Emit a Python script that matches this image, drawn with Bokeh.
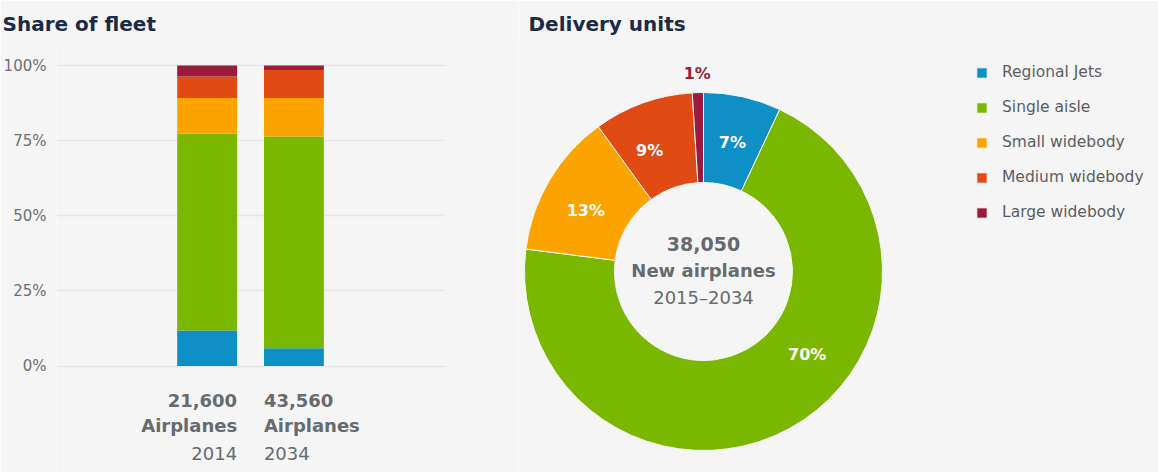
import math
from bokeh.plotting import figure
from bokeh.models import (Range1d, FixedTicker, Title, Legend, LegendItem,
                          ColumnDataSource, PrintfTickFormatter)
from bokeh.layouts import row
from bokeh.embed import file_html
from bokeh.resources import INLINE
from bokeh.core.properties import value

# ---------------- data ----------------
segments = ["Regional Jets", "Single aisle", "Small widebody", "Medium widebody", "Large widebody"]
seg_colors = ["#0e8fc5", "#7ab800", "#fba400", "#e04b14", "#9b1b3d"]

fleet_years = ["2014", "2034"]
fleet_totals = ["21,600", "43,560"]
fleet_2014 = [11.8, 65.5, 11.9, 7.1, 3.7]
fleet_2034 = [5.9, 70.5, 12.8, 9.3, 1.5]
y_ticks = [0, 25, 50, 75, 100]

delivery_share = [7, 70, 13, 9, 1]
delivery_total = "38,050"
delivery_caption = "New airplanes"
delivery_period = "2015–2034"

# ---------------- style ----------------
FONT = "DejaVu Sans"
BG = "#f5f5f5"
TITLE_COLOR = "#1b2a47"
TEXT_GRAY = "#676a6f"
H = 472
TITLE_H = 40          # height of the title panel (forced by min_border_top)
PX = 3.005            # pixels per percentage point on the bar chart

# ---------------- left: share of fleet ----------------
W1 = 518
frame_h1 = H - TITLE_H
y_bottom = -(H - 365.5) / PX
y_top = y_bottom + frame_h1 / PX
p1 = figure(width=W1, height=H, output_backend="svg", toolbar_location=None,
            x_range=Range1d(-1.736, 2.747), y_range=Range1d(y_bottom, y_top),
            x_axis_type=None, min_border_left=55, min_border_right=73,
            min_border_bottom=0, min_border_top=TITLE_H,
            background_fill_color=BG, border_fill_color=BG, outline_line_color=None)
p1.title = Title(text="Share of fleet", align="left", offset=-54,
                 text_font=FONT, text_font_size="20px", text_font_style="bold",
                 text_color=TITLE_COLOR)

src1 = {"x": [0, 1]}
for i, s in enumerate(segments):
    src1[s] = [fleet_2014[i], fleet_2034[i]]
p1.vbar_stack(segments, x="x", width=0.69, color=seg_colors, line_color=None,
              source=ColumnDataSource(src1))

p1.yaxis.ticker = FixedTicker(ticks=y_ticks)
p1.yaxis.formatter = PrintfTickFormatter(format="%d%%")
p1.yaxis.axis_line_color = None
p1.yaxis.major_tick_line_color = None
p1.yaxis.minor_tick_line_color = None
p1.yaxis.major_tick_out = 0
p1.yaxis.major_tick_in = 0
p1.yaxis.minor_tick_out = 0
p1.yaxis.minor_tick_in = 0
p1.yaxis.major_label_standoff = 10
p1.yaxis.major_label_text_font = FONT
p1.yaxis.major_label_text_font_size = "15px"
p1.yaxis.major_label_text_color = "#6e7073"
p1.ygrid.ticker = FixedTicker(ticks=y_ticks)
p1.ygrid.grid_line_color = "#e6e6e6"
p1.ygrid.grid_line_width = 1.5
p1.xgrid.visible = False

for i in range(2):
    align = "right" if i == 0 else "left"
    xo = 30 if i == 0 else -30
    rows = [(fleet_totals[i], "bold", "18px", 34.5),
            ("Airplanes", "bold", "18px", 59.5),
            (fleet_years[i], "normal", "18px", 87)]
    for txt, style, size, yo in rows:
        p1.text(x=[i], y=[0], text=[txt], x_offset=xo, y_offset=yo,
                text_align=align, text_baseline="middle",
                text_font=value(FONT), text_font_style=style,
                text_font_size=size, text_color=TEXT_GRAY)

# ---------------- right: delivery units ----------------
W2 = 1158 - W1
frame_h2 = H - TITLE_H
cx_px, cy_px = 703 - W1, 271
p2 = figure(width=W2, height=H, output_backend="svg", toolbar_location=None,
            x_range=Range1d(-cx_px, W2 - cx_px),
            y_range=Range1d(-(H - cy_px), -(H - cy_px) + frame_h2),
            x_axis_type=None, y_axis_type=None, min_border=0, min_border_top=TITLE_H,
            background_fill_color=BG, border_fill_color=BG, outline_line_color=None)
p2.xgrid.visible = False
p2.ygrid.visible = False
p2.title = Title(text="Delivery units", align="left", offset=10,
                 text_font=FONT, text_font_size="20px", text_font_style="bold",
                 text_color=TITLE_COLOR)

total = float(sum(delivery_share))
starts, ends, mids = [], [], []
cum = 0.0
LABEL_POS_IN_SLICE = [0.5, 0.41, 0.43, 0.37, 0.5]
for i, v in enumerate(delivery_share):
    f0 = cum / total
    f1 = (cum + v) / total
    starts.append(math.pi / 2 - 2 * math.pi * f0)
    ends.append(math.pi / 2 - 2 * math.pi * f1)
    mids.append(f0 + (f1 - f0) * LABEL_POS_IN_SLICE[i])
    cum += v

R_OUT, R_IN = 179, 89
src2 = ColumnDataSource(dict(start=starts, end=ends, color=seg_colors, seg=segments))
wedges = p2.annular_wedge(x=0, y=0, inner_radius=R_IN, outer_radius=R_OUT,
                          start_angle="start", end_angle="end", direction="clock",
                          color="color", line_color=BG, line_width=1, source=src2)

lx, ly, lt, lc = [], [], [], []
for i, v in enumerate(delivery_share):
    outside = v / total < 0.03
    r = 198 if outside else (R_OUT + R_IN) / 2 - 1.5
    a = 2 * math.pi * mids[i]
    lx.append(r * math.sin(a))
    ly.append(r * math.cos(a))
    lt.append(f"{v}%")
    lc.append(seg_colors[i] if outside else "white")
p2.text(x=lx, y=ly, text=lt, text_color=lc, text_align="center",
        text_baseline="middle", text_font=value(FONT), text_font_style="bold",
        text_font_size="16px")

for txt, style, size, yo in [(delivery_total, "bold", "19px", -28),
                             (delivery_caption, "bold", "18px", -1),
                             (delivery_period, "normal", "18px", 26)]:
    p2.text(x=[0], y=[0], text=[txt], y_offset=yo, text_align="center",
            text_baseline="middle", text_font=value(FONT), text_font_style=style,
            text_font_size=size, text_color=TEXT_GRAY)

legend = Legend(items=[LegendItem(label=s, renderers=[wedges], index=i)
                       for i, s in enumerate(segments)],
                location=(975 - W1, 250), glyph_width=13, glyph_height=13,
                label_height=20, spacing=15, label_standoff=14, padding=0, margin=0,
                label_text_font=FONT, label_text_font_size="15.5px",
                label_text_color="#5b5e62", border_line_color=None,
                background_fill_alpha=0)
p2.add_layout(legend)

layout = row(p1, p2)
open("out.html", "w").write(file_html(layout, INLINE))
